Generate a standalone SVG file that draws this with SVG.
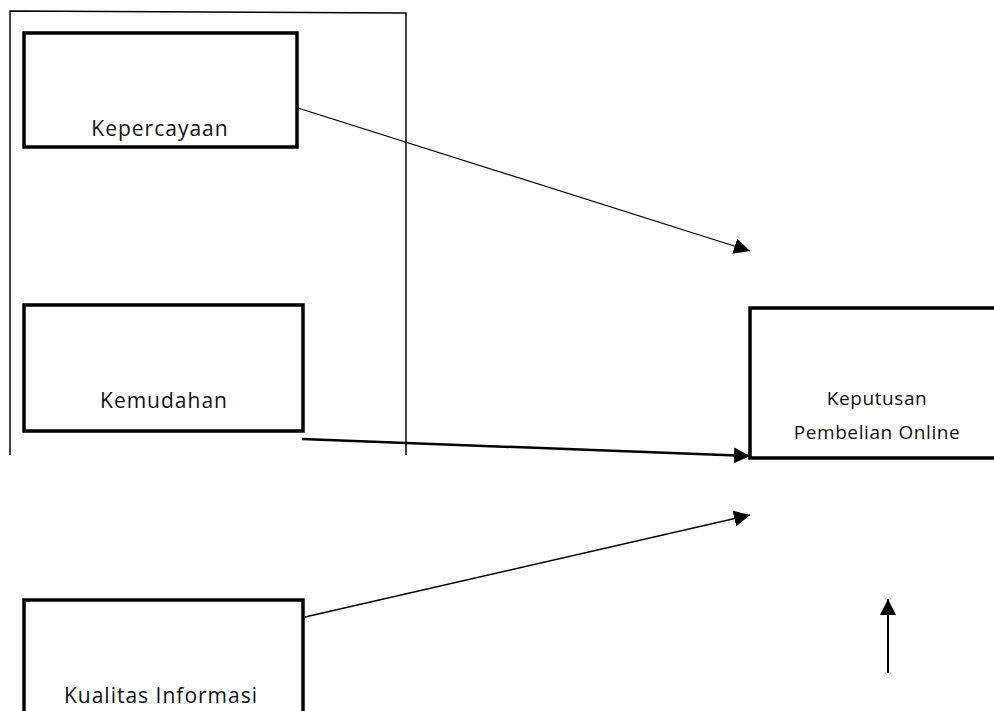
<svg xmlns="http://www.w3.org/2000/svg" width="994" height="711" viewBox="0 0 994 711">
<style>
.box{fill:#fff;stroke:#000;stroke-width:3.5}
.lbl{font-family:"Open Sans","Liberation Sans",sans-serif;fill:#111;text-anchor:middle}
.big{font-size:21px;letter-spacing:1px}
.sm{font-size:19px;letter-spacing:0.6px}
.con{stroke:#000;fill:none}
</style>
<defs>
<marker id="ah" viewBox="0 0 10 10" refX="10" refY="5" markerWidth="16" markerHeight="16" markerUnits="userSpaceOnUse" orient="auto">
<path d="M0,0 L10,5 L0,10 z" fill="#000"/>
</marker>
</defs>
<rect width="994" height="711" fill="#fff"/>
<g id="frame">
<path d="M10,455 L10,11 L406,13 L406,455" fill="none" stroke="#000" stroke-width="1.5"/>
</g>
<g id="kepercayaan">
<rect class="box" x="24" y="33" width="273" height="114"/>
<text class="lbl big" x="160" y="136">Kepercayaan</text>
</g>
<g id="kemudahan">
<rect class="box" x="24" y="305" width="279" height="126"/>
<text class="lbl big" x="164" y="408">Kemudahan</text>
</g>
<g id="kualitas">
<rect class="box" x="24" y="600" width="279" height="130"/>
<text class="lbl big" x="161" y="703">Kualitas Informasi</text>
</g>
<g id="keputusan">
<rect class="box" x="750" y="308" width="260" height="150"/>
<text class="lbl sm" x="877" y="405">Keputusan</text>
<text class="lbl sm" x="877" y="439">Pembelian Online</text>
</g>
<g id="connectors">
<line class="con" x1="298" y1="108" x2="750" y2="251" stroke-width="1.3" marker-end="url(#ah)"/>
<line class="con" x1="302" y1="439" x2="750" y2="456" stroke-width="2.5" marker-end="url(#ah)"/>
<line class="con" x1="305" y1="617" x2="750" y2="515" stroke-width="1.3" marker-end="url(#ah)"/>
<line class="con" x1="888" y1="673" x2="888" y2="599" stroke-width="2" marker-end="url(#ah)"/>
</g>
</svg>
